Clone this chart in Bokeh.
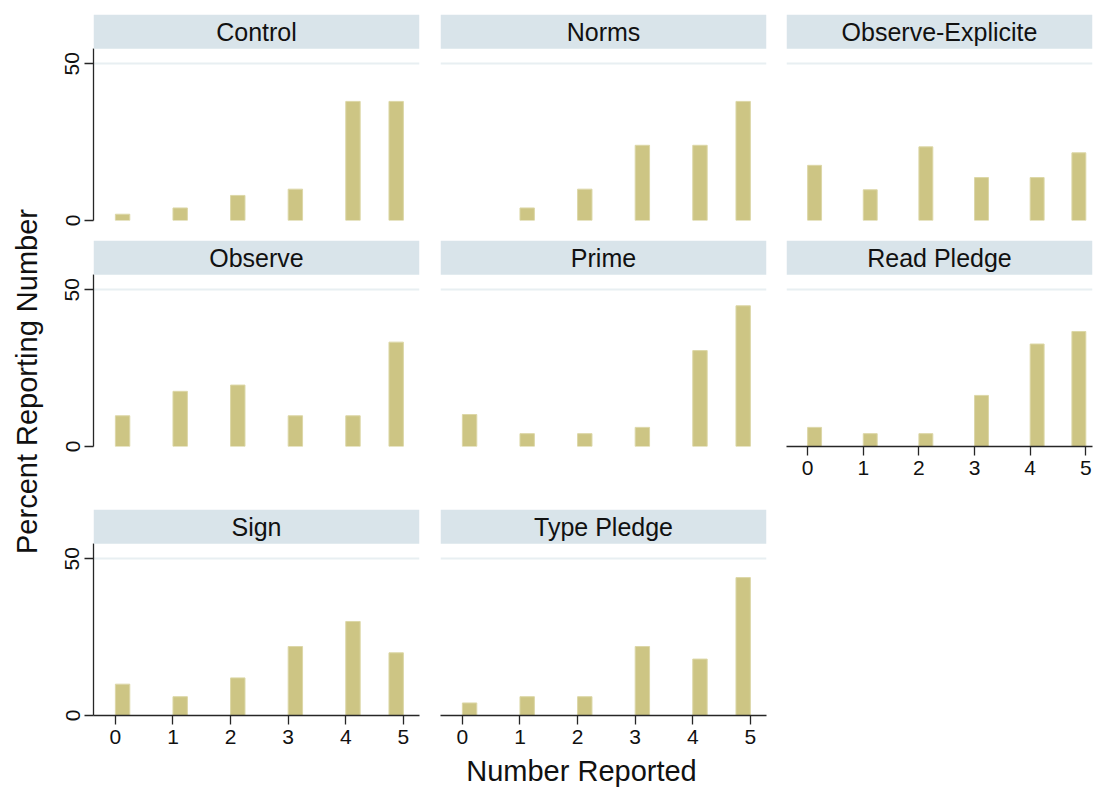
import math
from bokeh.plotting import figure
from bokeh.models import Range1d, LinearAxis, FixedTicker, BoxAnnotation, Label, Spacer
from bokeh.layouts import row, column
from bokeh.embed import file_html
from bokeh.resources import INLINE

# ---------------- data (percent reporting each number) ----------------
panel_names = ["Control", "Norms", "Observe-Explicite",
               "Observe", "Prime", "Read Pledge",
               "Sign", "Type Pledge"]
number_reported = [0, 1, 2, 3, 4, 5]
control = [2.0, 4.0, 8.0, 10.0, 38.0, 38.0]
norms = [0.0, 4.0, 10.0, 24.0, 24.0, 38.0]
observe_explicite = [17.6, 9.8, 23.5, 13.7, 13.7, 21.6]
observe = [9.8, 17.6, 19.6, 9.8, 9.8, 33.3]
prime = [10.2, 4.1, 4.1, 6.1, 30.6, 44.9]
read_pledge = [6.1, 4.1, 4.1, 16.3, 32.7, 36.7]
sign = [10.0, 6.0, 12.0, 22.0, 30.0, 20.0]
type_pledge = [4.0, 6.0, 6.0, 22.0, 18.0, 44.0]
y_ticks = [0, 50]
x_title = "Number Reported"
y_title = "Percent Reporting Number"

series = [control, norms, observe_explicite, observe, prime, read_pledge, sign, type_pledge]

# ---------------- styling ----------------
FONT = "Liberation Sans"
BAR_FILL = "#cdc584"
BAR_LINE = "#dcd7a7"
STRIP = "#d9e4ea"
GRID = "#e8eff2"
AXIS = "#262626"
TEXT = "#111111"
BAR_W = 0.25

FRAME_H = 206
Y_TOP = 65.73          # value at top of frame (strip included)
STRIP_BOTTOM = 54.79   # value where the strip starts
X0 = -0.38
COL_FRAME_W = [326, 326, 306]
COL_X1 = [5.28, 5.28, 5.12]
COL_BORDER = [(40, 21), (0, 20), (0, 4)]
ROW_BORDER = [(14, 20), (0, 63), (0, 38)]
YT_W = 53
XT_H = 35


def style_axis(ax):
    ax.axis_line_color = AXIS
    ax.axis_line_width = 1.3
    ax.major_tick_line_color = AXIS
    ax.major_tick_line_width = 1.3
    ax.major_tick_out = 9
    ax.major_tick_in = 0
    ax.minor_tick_out = 0
    ax.minor_tick_in = 0
    ax.major_label_text_font = FONT
    ax.major_label_text_font_size = "21px"
    ax.major_label_text_color = TEXT


def make_panel(name, vals, r, c, show_x):
    fw = COL_FRAME_W[c]
    x1 = COL_X1[c]
    bl, br = COL_BORDER[c]
    bt, bb = ROW_BORDER[r]
    p = figure(frame_width=fw, frame_height=FRAME_H,
               min_border_left=bl, min_border_right=br,
               min_border_top=bt, min_border_bottom=bb,
               x_range=Range1d(X0, x1), y_range=Range1d(0, Y_TOP),
               x_axis_location=None, y_axis_location=None,
               toolbar_location=None, output_backend="svg",
               outline_line_color=None,
               background_fill_color="white", border_fill_color="white")
    p.xgrid.visible = False
    p.ygrid.ticker = FixedTicker(ticks=y_ticks)
    p.ygrid.grid_line_color = GRID
    p.ygrid.grid_line_width = 2

    last = max(number_reported)
    xs, tops = [], []
    for k, v in zip(number_reported, vals):
        if v > 0:
            xs.append(k + BAR_W / 2 if k < last else k - BAR_W / 2)
            tops.append(v)
    p.vbar(x=xs, top=tops, bottom=0, width=BAR_W,
           fill_color=BAR_FILL, line_color=BAR_LINE, line_width=1)

    p.add_layout(BoxAnnotation(bottom=STRIP_BOTTOM, fill_color=STRIP, fill_alpha=1,
                               line_color=None))
    p.add_layout(Label(x=(X0 + x1) / 2, y=(STRIP_BOTTOM + Y_TOP) / 2, text=name,
                       text_align="center", text_baseline="middle",
                       text_font=FONT, text_font_size="25px", text_color=TEXT))

    if c == 0:
        ya = LinearAxis(ticker=FixedTicker(ticks=y_ticks), bounds=(0, STRIP_BOTTOM))
        style_axis(ya)
        ya.major_label_orientation = "vertical"
        ya.major_label_standoff = 5
        p.add_layout(ya, "left")
    if show_x:
        xa = LinearAxis(ticker=FixedTicker(ticks=number_reported))
        style_axis(xa)
        xa.major_label_standoff = 5
        p.add_layout(xa, "below")
    return p


figs = []
for i, (name, vals) in enumerate(zip(panel_names, series)):
    r, c = divmod(i, 3)
    show_x = (r == 2) or (r == 1 and c == 2)
    figs.append(make_panel(name, vals, r, c, show_x))

grid_h = sum(FRAME_H + t + b for t, b in ROW_BORDER)
grid_w = sum(fw + l + rr for fw, (l, rr) in zip(COL_FRAME_W, COL_BORDER))

ytf = figure(width=YT_W, height=grid_h, x_range=Range1d(0, YT_W), y_range=Range1d(0, grid_h),
             min_border_left=0, min_border_right=0, min_border_top=0, min_border_bottom=0,
             x_axis_location=None, y_axis_location=None, toolbar_location=None,
             output_backend="svg", outline_line_color=None)
ytf.grid.visible = False
ytf.add_layout(Label(x=26, y=grid_h - 381, text=y_title, angle=math.pi / 2,
                     text_align="center", text_baseline="middle",
                     text_font=FONT, text_font_size="29px", text_color=TEXT))

total_w = YT_W + grid_w
xtf = figure(width=total_w, height=XT_H, x_range=Range1d(0, total_w), y_range=Range1d(0, XT_H),
             min_border_left=0, min_border_right=0, min_border_top=0, min_border_bottom=0,
             x_axis_location=None, y_axis_location=None, toolbar_location=None,
             output_backend="svg", outline_line_color=None)
xtf.grid.visible = False
xtf.add_layout(Label(x=581, y=18, text=x_title, text_align="center",
                     text_baseline="middle", text_font=FONT,
                     text_font_size="29px", text_color=TEXT))

last_h = FRAME_H + ROW_BORDER[2][0] + ROW_BORDER[2][1]
grid_rows = column(
    row(figs[0], figs[1], figs[2]),
    row(figs[3], figs[4], figs[5]),
    row(figs[6], figs[7], Spacer(width=COL_FRAME_W[2] + sum(COL_BORDER[2]), height=last_h)),
)
layout = column(row(ytf, grid_rows), xtf)

open("out.html", "w").write(file_html(layout, INLINE))
